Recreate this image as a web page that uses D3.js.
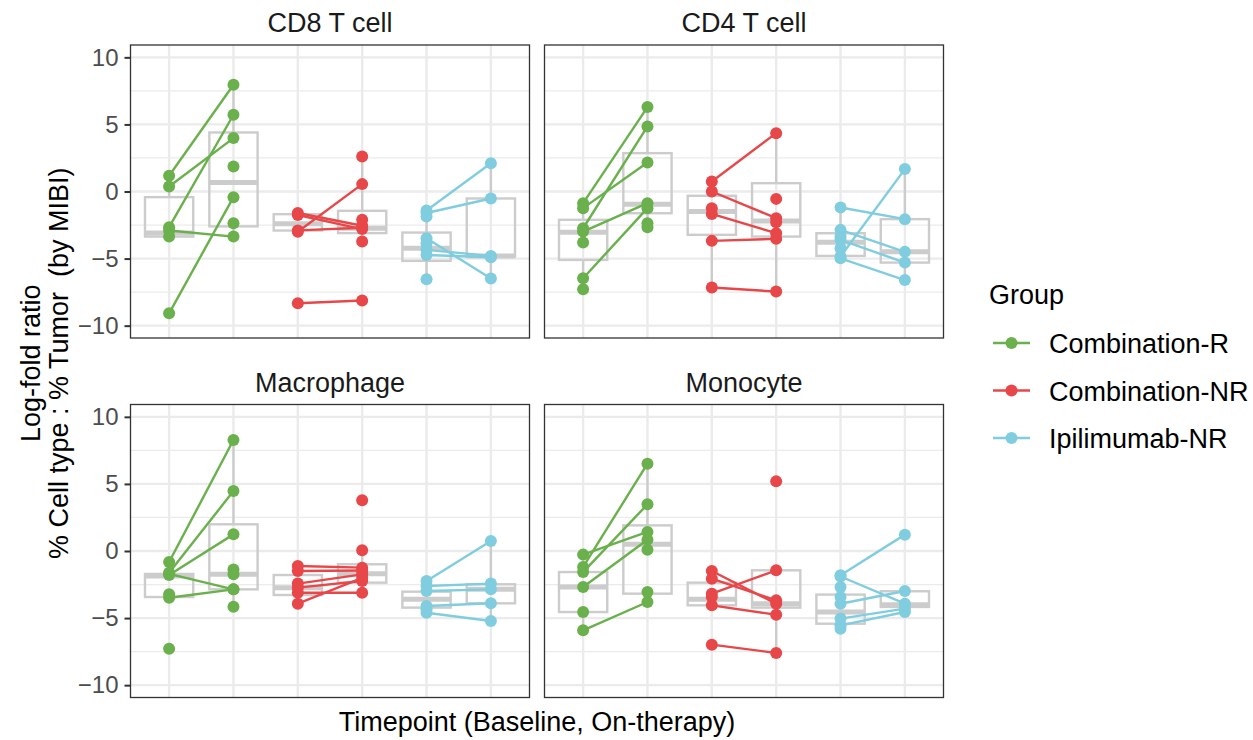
<!DOCTYPE html>
<html lang="en">
<head>
  <meta charset="utf-8">
  <title>Log-fold ratio by timepoint</title>
  <script src="https://cdn.jsdelivr.net/npm/d3@7"></script>
  <style>
    body { margin: 0; background: #fff; }
    text { font-family: "Liberation Sans", Arial, Helvetica, sans-serif; }
    .grid-major { stroke: #ebebeb; stroke-width: 2.4; }
    .grid-minor { stroke: #ebebeb; stroke-width: 1.2; }
    .box { fill: none; stroke: #cccccc; stroke-width: 2.4; }
    .median { stroke: #cccccc; stroke-width: 5; }
    .axis path { display: none; }
    .axis line { stroke: #333; stroke-width: 2; }
    .axis text { fill: #4d4d4d; font-size: 24px; }
  </style>
</head>
<body>
<script>
  // facets and groups
  var facets = ["CD8 T cell", "CD4 T cell", "Macrophage", "Monocyte"];
  var groups = ["Combination-R", "Combination-NR", "Ipilimumab-NR"];
  var groupColors = ["#6ab04c", "#e8474a", "#80cde0"];
  var yTicks = [-10, -5, 0, 5, 10];
  var yMinor = [-7.5, -2.5, 2.5, 7.5];

  // [group, baseline, on-therapy] ; null = sample without its pair
  var cd8Samples = [
    [0, 1.17, 7.96], [0, 0.37, 3.98], [0, -2.66, 5.72], [0, -2.91, -3.36], [0, -9.08, -0.42],
    [0, -3.36, null], [0, null, 1.87], [0, null, -2.36],
    [1, -1.6, -2.55], [1, -1.75, -2.8], [1, -3.0, 0.55], [1, -2.9, -2.7], [1, -8.33, -8.13],
    [1, null, 2.61], [1, null, -2.1], [1, null, -3.73],
    [2, -1.42, 2.11], [2, -1.6, -0.52], [2, -3.48, -6.49], [2, -4.35, -4.8], [2, -4.73, -4.9],
    [2, -1.87, null], [2, -3.86, null], [2, -6.54, null]
  ];
  var cd4Samples = [
    [0, -0.87, 6.29], [0, -1.24, 2.16], [0, -2.74, 4.85], [0, -2.99, -0.87], [0, -6.47, -1.24],
    [0, -3.81, null], [0, -7.29, null], [0, null, -2.36], [0, null, -2.66],
    [1, 0.75, 4.35], [1, 0.0, -1.99], [1, -1.67, -3.11], [1, -3.68, -3.53], [1, -7.16, -7.46],
    [1, -1.24, null], [1, null, -0.55], [1, null, -2.3],
    [2, -1.19, -2.06], [2, -4.85, 1.67], [2, -2.86, -4.5], [2, -3.6, -5.3], [2, -4.98, -6.6],
    [2, -3.36, null], [2, -4.23, null]
  ];
  var macSamples = [
    [0, -0.82, 8.27], [0, -1.62, 4.47], [0, -1.79, 1.24], [0, -1.7, -2.86], [0, -3.48, -2.86],
    [0, -3.23, null], [0, -7.28, null], [0, null, -1.37], [0, null, -1.74], [0, null, -4.15],
    [1, -1.12, -1.24], [1, -1.49, -1.45], [1, -2.43, -1.74], [1, -2.73, -2.24], [1, -3.11, -3.11],
    [1, -3.93, -2.0], [1, null, 3.78], [1, null, 0.05],
    [2, -2.24, 0.75], [2, -2.61, -2.43], [2, -2.98, -2.86], [2, -4.1, -3.9], [2, -4.6, -5.22],
    [2, -4.35, null]
  ];
  var monoSamples = [
    [0, -1.19, 6.51], [0, -1.57, 3.48], [0, -0.27, 1.42], [0, -2.68, 0.84], [0, -5.91, -3.8],
    [0, -4.55, null], [0, null, 0.1], [0, null, -3.06],
    [1, -1.49, -3.93], [1, -2.06, -3.68], [1, -3.18, -1.44], [1, -4.05, -4.75], [1, -6.98, -7.6],
    [1, -3.43, null], [1, null, 5.19],
    [2, -1.81, 1.22], [2, -1.9, -3.93], [2, -3.93, -2.98], [2, -5.04, -4.3], [2, -5.54, -4.55],
    [2, -2.68, null], [2, -3.43, null], [2, -5.79, null]
  ];

  // box stats per x slot: [lower whisker, q1, median, q3, upper whisker]
  var cd8Boxes = [
    [-3.36, -3.36, -3.1, -0.42, 1.17], [-3.36, -2.6, 0.67, 4.4, 7.96],
    [-3.0, -2.91, -2.4, -1.69, -1.6], [-3.73, -3.1, -2.74, -1.44, 2.61],
    [-6.54, -5.17, -4.23, -3.06, -1.42], [-6.49, -4.85, -4.8, -0.52, 2.11]
  ];
  var cd4Boxes = [
    [-7.29, -5.1, -3.03, -2.11, -0.87], [-2.66, -1.62, -0.95, 2.86, 6.29],
    [-7.16, -3.23, -1.49, -0.32, 0.75], [-7.46, -3.36, -2.19, 0.62, 4.35],
    [-4.98, -4.8, -3.78, -3.11, -1.19], [-6.6, -5.3, -4.5, -2.06, 1.67]
  ];
  var macBoxes = [
    [-3.48, -3.43, -1.86, -1.71, -0.82], [-4.15, -2.86, -1.74, 1.99, 8.27],
    [-3.93, -3.28, -2.73, -1.79, -1.12], [-3.11, -2.36, -1.69, -0.99, 0.05],
    [-4.6, -4.22, -3.6, -3.03, -2.24], [-5.22, -3.9, -2.86, -2.48, 0.75]
  ];
  var monoBoxes = [
    [-5.91, -4.55, -2.68, -1.57, -0.27], [-3.8, -3.18, 0.5, 1.91, 6.51],
    [-4.05, -4.05, -3.6, -2.36, -1.49], [-7.6, -4.22, -3.93, -1.44, -1.44],
    [-5.79, -5.42, -4.55, -3.25, -1.81], [-4.55, -4.17, -4.0, -3.0, -2.98]
  ];

  var samplesByFacet = [cd8Samples, cd4Samples, macSamples, monoSamples];
  var boxesByFacet = [cd8Boxes, cd4Boxes, macBoxes, monoBoxes];

  //Width and height
  var w = 1253;
  var h = 740;
  var pw = 399, ph = 293;
  var panelX = [130.5, 544.5];
  var panelY = [45, 404.5];

  var xScale = d3.scaleLinear().domain([0.4, 6.6]).range([0, pw]);
  var yScale = d3.scaleLinear().domain([-10.92, 10.92]).range([ph, 0]);
  var color = d3.scaleOrdinal().domain(d3.range(groups.length)).range(groupColors);

  // slot on the x axis: group * 2 + timepoint + 1
  function slot(g, t) { return g * 2 + t + 1; }

  var svg = d3.select("body")
    .append("svg")
    .attr("width", w)
    .attr("height", h);

  facets.forEach(function (name, fi) {
    var col = fi % 2, row = Math.floor(fi / 2);
    var g = svg.append("g")
      .attr("transform", "translate(" + panelX[col] + "," + panelY[row] + ")");

    // strip label
    svg.append("text")
      .attr("x", panelX[col] + pw / 2)
      .attr("y", panelY[row] - 13)
      .attr("text-anchor", "middle")
      .attr("font-size", "27px")
      .attr("fill", "#1a1a1a")
      .text(name);

    // grid
    g.selectAll(".grid-minor")
      .data(yMinor)
      .enter()
      .append("line")
      .attr("class", "grid-minor")
      .attr("x1", 0).attr("x2", pw)
      .attr("y1", function (d) { return yScale(d); })
      .attr("y2", function (d) { return yScale(d); });

    g.selectAll(".grid-major")
      .data(yTicks)
      .enter()
      .append("line")
      .attr("class", "grid-major")
      .attr("x1", 0).attr("x2", pw)
      .attr("y1", function (d) { return yScale(d); })
      .attr("y2", function (d) { return yScale(d); });

    g.selectAll(".grid-x")
      .data(d3.range(1, 7))
      .enter()
      .append("line")
      .attr("class", "grid-major")
      .attr("y1", 0).attr("y2", ph)
      .attr("x1", function (d) { return xScale(d); })
      .attr("x2", function (d) { return xScale(d); });

    // boxplots
    var bw = xScale(0.75) - xScale(0);
    var boxes = g.selectAll(".bx")
      .data(boxesByFacet[fi])
      .enter()
      .append("g");

    boxes.append("line")
      .attr("class", "box")
      .attr("x1", function (d, i) { return xScale(i + 1); })
      .attr("x2", function (d, i) { return xScale(i + 1); })
      .attr("y1", function (d) { return yScale(d[4]); })
      .attr("y2", function (d) { return yScale(d[3]); });

    boxes.append("line")
      .attr("class", "box")
      .attr("x1", function (d, i) { return xScale(i + 1); })
      .attr("x2", function (d, i) { return xScale(i + 1); })
      .attr("y1", function (d) { return yScale(d[1]); })
      .attr("y2", function (d) { return yScale(d[0]); });

    boxes.append("rect")
      .attr("class", "box")
      .attr("x", function (d, i) { return xScale(i + 1) - bw / 2; })
      .attr("width", bw)
      .attr("y", function (d) { return yScale(d[3]); })
      .attr("height", function (d) { return yScale(d[1]) - yScale(d[3]); });

    boxes.append("line")
      .attr("class", "median")
      .attr("x1", function (d, i) { return xScale(i + 1) - bw / 2; })
      .attr("x2", function (d, i) { return xScale(i + 1) + bw / 2; })
      .attr("y1", function (d) { return yScale(d[2]); })
      .attr("y2", function (d) { return yScale(d[2]); });

    var samples = samplesByFacet[fi];

    // paired lines
    g.selectAll(".pair")
      .data(samples.filter(function (d) { return d[1] !== null && d[2] !== null; }))
      .enter()
      .append("line")
      .attr("x1", function (d) { return xScale(slot(d[0], 0)); })
      .attr("x2", function (d) { return xScale(slot(d[0], 1)); })
      .attr("y1", function (d) { return yScale(d[1]); })
      .attr("y2", function (d) { return yScale(d[2]); })
      .attr("stroke", function (d) { return color(d[0]); })
      .attr("stroke-width", 2.4);

    // points
    var pts = [];
    samples.forEach(function (d) {
      if (d[1] !== null) pts.push({ g: d[0], t: 0, v: d[1] });
      if (d[2] !== null) pts.push({ g: d[0], t: 1, v: d[2] });
    });
    g.selectAll("circle")
      .data(pts)
      .enter()
      .append("circle")
      .attr("cx", function (d) { return xScale(slot(d.g, d.t)); })
      .attr("cy", function (d) { return yScale(d.v); })
      .attr("r", 6)
      .attr("fill", function (d) { return color(d.g); });

    // panel border
    g.append("rect")
      .attr("width", pw)
      .attr("height", ph)
      .attr("fill", "none")
      .attr("stroke", "#333")
      .attr("stroke-width", 1.3);

    // y axis on left column only
    if (col === 0) {
      var yAxis = d3.axisLeft(yScale)
        .tickValues(yTicks)
        .tickSize(6)
        .tickPadding(6);
      g.append("g")
        .attr("class", "axis")
        .call(yAxis);
    }
  });

  // axis titles
  var midY = (panelY[0] + panelY[1] + ph) / 2 - 8;
  svg.append("text")
    .attr("transform", "translate(40," + midY + ") rotate(-90)")
    .attr("text-anchor", "middle")
    .attr("font-size", "27px")
    .text("Log-fold ratio");
  svg.append("text")
    .attr("transform", "translate(68," + midY + ") rotate(-90)")
    .attr("text-anchor", "middle")
    .attr("font-size", "27px")
    .attr("xml:space", "preserve")
    .style("white-space", "pre")
    .text("% Cell type : % Tumor  (by MIBI)");

  svg.append("text")
    .attr("x", (panelX[0] + panelX[1] + pw) / 2)
    .attr("y", 731)
    .attr("text-anchor", "middle")
    .attr("font-size", "27px")
    .text("Timepoint (Baseline, On-therapy)");

  // legend
  var legend = svg.append("g").attr("transform", "translate(989,0)");
  legend.append("text")
    .attr("x", 0)
    .attr("y", 304)
    .attr("font-size", "27px")
    .text("Group");

  var items = legend.selectAll(".item")
    .data(groups)
    .enter()
    .append("g")
    .attr("transform", function (d, i) { return "translate(0," + (343 + i * 47.5) + ")"; });

  items.append("line")
    .attr("x1", 4).attr("x2", 41)
    .attr("stroke", function (d, i) { return color(i); })
    .attr("stroke-width", 2.4);
  items.append("circle")
    .attr("cx", 22.5)
    .attr("r", 6)
    .attr("fill", function (d, i) { return color(i); });
  items.append("text")
    .attr("x", 60)
    .attr("y", 10)
    .attr("font-size", "27px")
    .text(function (d) { return d; });
</script>
</body>
</html>
